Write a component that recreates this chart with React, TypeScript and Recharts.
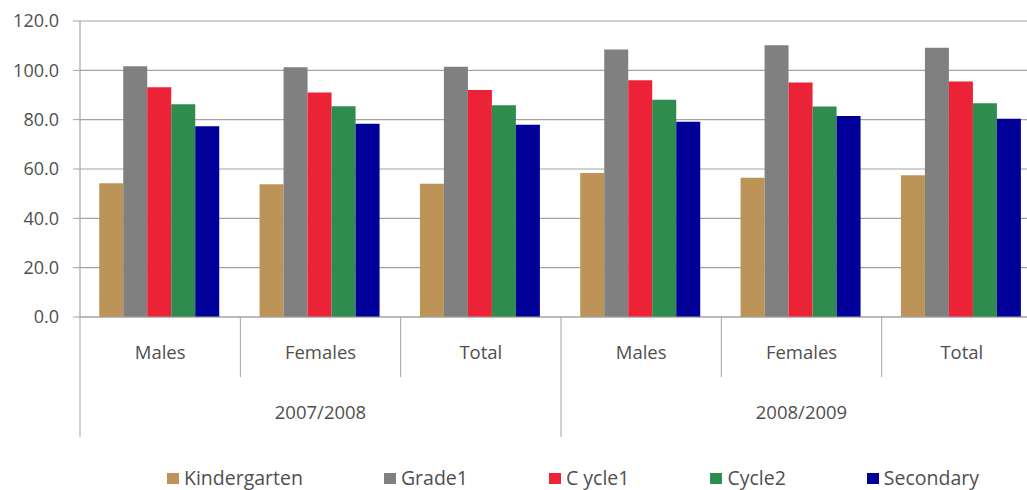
import { BarChart, Bar, XAxis, YAxis, CartesianGrid, Legend } from 'recharts'

const categories = ['Males', 'Females', 'Total', 'Males', 'Females', 'Total']
const years = ['2007/2008', '2008/2009']
const yTicks = [0, 20, 40, 60, 80, 100, 120]

const kindergarten = [54.2, 53.8, 54.0, 58.4, 56.5, 57.5]
const grade1 = [101.7, 101.2, 101.5, 108.4, 110.2, 109.2]
const cycle1 = [93.1, 91.0, 92.0, 96.0, 95.1, 95.5]
const cycle2 = [86.2, 85.4, 85.8, 88.1, 85.3, 86.7]
const secondary = [77.3, 78.3, 77.9, 79.2, 81.5, 80.4]

const series = [
  { key: 'kindergarten', name: 'Kindergarten', color: '#bd9458' },
  { key: 'grade1', name: 'Grade1', color: '#808080' },
  { key: 'cycle1', name: 'C ycle1', color: '#ec2337' },
  { key: 'cycle2', name: 'Cycle2', color: '#2f8c4f' },
  { key: 'secondary', name: 'Secondary', color: '#000099' },
]

const data = categories.map((c, i) => ({
  key: `${c}-${i}`,
  kindergarten: kindergarten[i],
  grade1: grade1[i],
  cycle1: cycle1[i],
  cycle2: cycle2[i],
  secondary: secondary[i],
}))

const FONT = '"Open Sans", sans-serif'
const TEXT = '#4f4f4f'
const LINE = '#a3a3a3'
const CHART_W = 1050
const Y_W = 80
const RIGHT = 8
const PER_GROUP = 3

function CategoryTick(props: any) {
  const { x, y, payload } = props
  const i = payload.index
  const half = (CHART_W - Y_W - RIGHT) / categories.length / 2
  const leftLong = i % PER_GROUP === 0
  const isLast = i === categories.length - 1
  return (
    <g>
      <line x1={x - half} x2={x - half} y1={y} y2={y + (leftLong ? 120 : 60)} stroke={LINE} strokeWidth={1} />
      {isLast && <line x1={x + half} x2={x + half} y1={y} y2={y + 120} stroke={LINE} strokeWidth={1} />}
      <text x={x} y={y + 34} textAnchor="middle" dominantBaseline="central" fontFamily={FONT} fontSize={18.5} fill={TEXT}>
        {categories[i]}
      </text>
      {i % PER_GROUP === 1 && (
        <text x={x} y={y + 94} textAnchor="middle" dominantBaseline="central" fontFamily={FONT} fontSize={18.5} fill={TEXT}>
          {years[Math.floor(i / PER_GROUP)]}
        </text>
      )}
    </g>
  )
}

function LegendContent() {
  return (
    <div style={{ display: 'flex', gap: 81, alignItems: 'center', fontFamily: FONT }}>
      {series.map((s) => (
        <div key={s.key} style={{ display: 'flex', alignItems: 'center' }}>
          <span style={{ display: 'inline-block', width: 12, height: 11, background: s.color, marginRight: 5 }} />
          <span style={{ fontSize: 19.5, color: TEXT, lineHeight: '24px', whiteSpace: 'pre' }}>{s.name}</span>
        </div>
      ))}
    </div>
  )
}

export default function App() {
  return (
    <div
      style={{
        position: 'fixed',
        left: 0,
        top: 0,
        width: 1027,
        height: 490,
        overflow: 'hidden',
        background: '#fff',
        fontFamily: FONT,
      }}
    >
      <BarChart
        width={CHART_W}
        height={490}
        data={data}
        margin={{ top: 21, right: RIGHT, bottom: 0, left: 0 }}
        barCategoryGap="12%"
        barGap={0}
      >
        <CartesianGrid vertical={false} stroke={LINE} strokeWidth={1.2} />
        <YAxis
          width={Y_W}
          domain={[0, 120]}
          ticks={yTicks}
          tickFormatter={(v: number) => v.toFixed(1)}
          tick={{ fontFamily: FONT, fontSize: 18, fill: TEXT }}
          tickSize={7}
          tickMargin={14}
          tickLine={{ stroke: LINE }}
          axisLine={{ stroke: LINE, strokeWidth: 1.2 }}
        />
        <XAxis
          dataKey="key"
          height={173}
          interval={0}
          tickSize={0}
          tickMargin={0}
          tickLine={false}
          axisLine={{ stroke: LINE, strokeWidth: 1.2 }}
          tick={<CategoryTick />}
        />
        <Legend
          layout="horizontal"
          verticalAlign="middle"
          align="center"
          wrapperStyle={{ top: 466, left: 167, width: 900 }}
          content={<LegendContent />}
        />
        {series.map((s) => (
          <Bar key={s.key} dataKey={s.key} name={s.name} fill={s.color} isAnimationActive={false} />
        ))}
      </BarChart>
    </div>
  )
}
